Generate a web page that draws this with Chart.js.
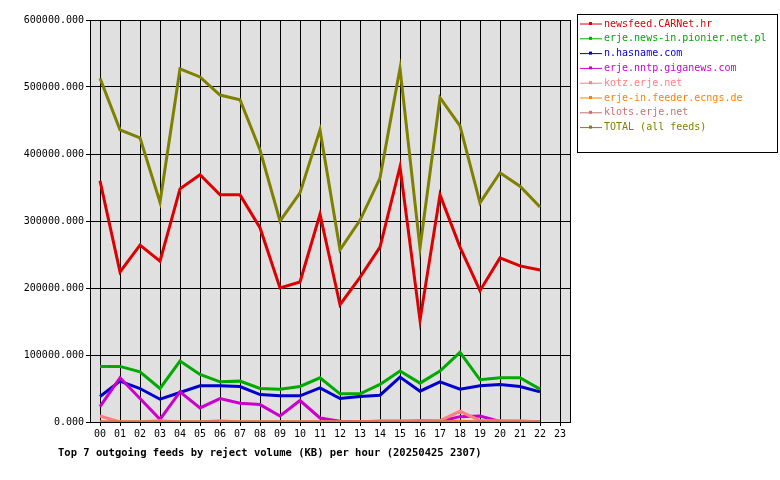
<!DOCTYPE html>
<html><head><meta charset="utf-8">
<script src="https://cdn.jsdelivr.net/npm/chart.js@4"></script>
<style>html,body{margin:0;padding:0;background:#fff}#w{width:780px;height:480px}</style>
</head><body><div id="w"><canvas id="c"></canvas></div>
<script>
const hours=['00','01','02','03','04','05','06','07','08','09','10','11','12','13','14','15','16','17','18','19','20','21','22','23'];
const yTicks=[0,100000,200000,300000,400000,500000,600000];
const newsfeed=[360000,224000,264000,240000,348000,369000,339000,339000,290000,200000,209000,310000,175000,216000,261000,381000,152000,339000,261000,196000,245000,233000,227000];
const pionier=[83000,83000,75000,50000,91000,71000,60000,61000,50000,49000,53000,66000,42000,42000,56000,76000,58000,76000,104000,63000,66000,66000,49000];
const hasname=[38000,61000,50000,34000,44000,54000,54000,53000,41000,39000,39000,51000,35000,38000,40000,67000,46000,60000,49000,54000,56000,53000,45000];
const giganews=[23000,66000,35000,4000,45000,21000,35000,28000,26000,9000,32000,6000,1000,0,0,0,2000,1000,8000,9000,1000,0,0];
const kotz=[9000,0,0,2000,0,0,2000,0,0,0,0,0,0,0,2000,2000,2000,2000,16000,2000,2000,2000,0];
const ecngs=[0,0,0,0,0,0,0,0,0,0,0,0,0,0,0,0,0,0,1000,0,0,0,0];
const klots=[0,0,0,0,0,0,0,0,0,0,0,0,0,0,0,0,0,0,0,0,0,0,0];
const total=[513000,436000,424000,328000,527000,515000,488000,481000,406000,300000,342000,436000,257000,301000,364000,528000,260000,484000,442000,327000,372000,352000,321000];
const labels=['newsfeed.CARNet.hr','erje.news-in.pionier.net.pl','n.hasname.com','erje.nntp.giganews.com','kotz.erje.net','erje-in.feeder.ecngs.de','klots.erje.net','TOTAL (all feeds)'];
const colors=['#dd0000','#00aa00','#0000cc','#cc00cc','#ff8080','#ff8000','#cc7070','#808000'];
const series=[newsfeed,pionier,hasname,giganews,kotz,ecngs,klots,total];
const F='"DejaVu Sans Mono", monospace';
const ds=series.map((d,i)=>({label:labels[i],data:d,borderColor:colors[i],backgroundColor:colors[i],borderWidth:3,pointRadius:0,tension:0,order:7-i}));
const deco={id:'deco',
 beforeDraw(c){const a=c.chartArea,x=c.ctx;x.save();x.fillStyle='#e0e0e0';x.fillRect(a.left,a.top,a.right-a.left,a.bottom-a.top);x.restore();},
 afterDraw(c){const a=c.chartArea,x=c.ctx;x.save();x.strokeStyle='#000';x.lineWidth=1;x.strokeRect(a.left+0.5,a.top+0.5,a.right-a.left,a.bottom-a.top);
  x.strokeRect(577.5,14.5,200,138);
  x.font='10px '+F;x.textBaseline='middle';
  labels.forEach((l,i)=>{const y=24+i*14.8;x.strokeStyle=colors[i];x.fillStyle=colors[i];x.lineWidth=1;x.beginPath();x.moveTo(580,y);x.lineTo(602,y);x.stroke();x.fillRect(589,y-2,3,3);x.fillText(l,604,y);});
  x.fillStyle='#000';x.font='bold 10.5px '+F;x.textBaseline='alphabetic';x.fillText('Top 7 outgoing feeds by reject volume (KB) per hour (20250425 2307)',58,456);
  x.restore();}};
new Chart(document.getElementById('c'),{type:'line',data:{labels:hours,datasets:ds},plugins:[deco],
 options:{responsive:true,maintainAspectRatio:false,animation:false,
  layout:{padding:{left:0,right:210,top:20,bottom:40}},
  plugins:{legend:{display:false},tooltip:{enabled:false}},
  scales:{
   x:{offset:true,afterFit(s){s.height=18;},grid:{color:'#000',offset:false,drawTicks:true,tickLength:4},border:{display:false},ticks:{color:'#000',font:{family:F,size:10},maxRotation:0,autoSkip:false,padding:2}},
   y:{min:0,max:600000,afterFit(s){s.width=90;},afterBuildTicks(s){s.ticks=yTicks.map(v=>({value:v}));},grid:{color:'#000',tickLength:4},border:{display:false},
     ticks:{color:'#000',font:{family:F,size:10},padding:2,callback:v=>v.toFixed(3)}}}}});
</script></body></html>
